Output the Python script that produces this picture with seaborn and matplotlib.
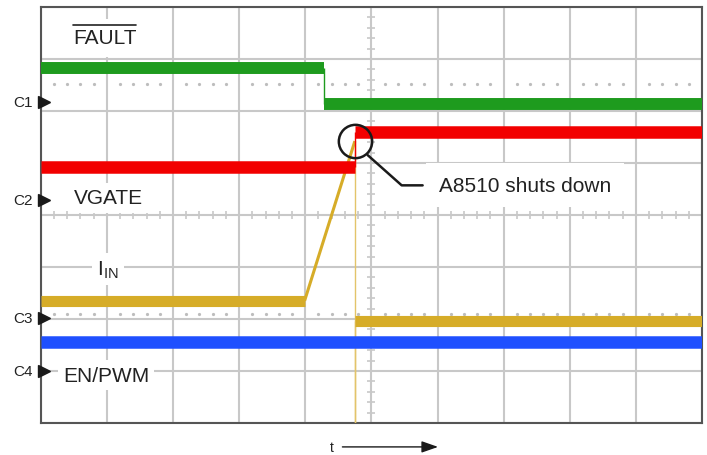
import numpy as np
import pandas as pd
import matplotlib
matplotlib.use("Agg")
import matplotlib.pyplot as plt
import seaborn as sns

# scope traces, in screen divisions (x: 0..10, y: 0..8)
fault_t = [0, 4.28, 4.28, 10]
fault_v = [6.83, 6.83, 6.13, 6.13]
vgate_t = [0, 4.75, 4.75, 10]
vgate_v = [4.92, 4.92, 5.60, 5.60]
iin_t = [0, 3.99, 4.75, 4.75, 4.75, 10]
iin_v = [2.35, 2.35, 5.42, 0.0, 1.96, 1.96]
en_t = [0, 10]
en_v = [1.56, 1.56]

channels = ["C1", "C2", "C3", "C4"]
ch_ref = [6.17, 4.29, 2.02, 1.00]

sns.set_style("white")
plt.rcParams["font.family"] = ["Liberation Sans", "DejaVu Sans"]
plt.rcParams["mathtext.fontset"] = "custom"
plt.rcParams["mathtext.rm"] = "Liberation Sans"

fig = plt.figure(figsize=(7.07, 4.56), dpi=100)
ax = fig.add_axes([0.0576, 0.0702, 0.9354, 0.9123])
ax.set_xlim(0, 10)
ax.set_ylim(0, 8)
ax.set_xticks(range(11))
ax.set_yticks(range(9))
ax.tick_params(length=0, labelbottom=False, labelleft=False)
ax.set_axisbelow(True)
ax.grid(True, color="#c8c8c8", lw=1.5)
for s in ax.spines.values():
    s.set_color("#555555")
    s.set_linewidth(1.5)

# center-line minor ticks and dotted rows
minor_x = [m / 5 for m in range(1, 50) if m % 5]
minor_y = [m / 5 for m in range(1, 40) if m % 5]
ax.plot([5] * len(minor_y), minor_y, ls="none", marker="_",
        ms=6, mew=1.2, color="#c8c8c8", zorder=0.6)
ax.plot(minor_x, [4] * len(minor_x), ls="none", marker="|", ms=6, mew=1.2,
        color="#c8c8c8", zorder=0.6)
for yd in [6.52, 2.10]:
    ax.plot(minor_x, [yd] * len(minor_x), ls="none", marker="o", ms=1.3,
            color="#bdbdbd", zorder=0.6)


def trace(t, v, color, band, thin_color=None):
    for i in range(len(t) - 1):
        seg = pd.DataFrame({"t": t[i:i + 2], "v": v[i:i + 2]})
        if v[i] == v[i + 1]:
            lw = band
            c = color
        elif t[i] == t[i + 1]:
            lw = 1.0
            c = thin_color or color
        else:
            lw = 2.2
            c = color
        sns.lineplot(data=seg, x="t", y="v", ax=ax, color=c, lw=lw,
                     sort=False, estimator=None, solid_capstyle="butt", zorder=3)


trace(fault_t, fault_v, "#1e9b1e", 8.6)
trace(iin_t, iin_v, "#d6ac28", 8.0, "#e3c46a")
trace(vgate_t, vgate_v, "#f20000", 9.0)
trace(en_t, en_v, "#1f50ff", 9.0)
ax.set_xlabel("")
ax.set_ylabel("")

# channel markers
for name, yv in zip(channels, ch_ref):
    ax.text(-0.116, yv, name, ha="right", va="center", fontsize=11, color="#222222")
    ax.plot(0.05, yv, marker=">", ms=8, color="#1a1a1a", clip_on=False, zorder=5)

box = dict(boxstyle="square,pad=0.25", facecolor="white", edgecolor="none")
ax.text(0.488, 7.41, "FAULT", fontsize=15, va="center", ha="left", color="#222222",
        bbox=dict(boxstyle="square,pad=0.45", facecolor="white", edgecolor="none"))
ax.plot([0.488, 1.44], [7.65, 7.65], color="#222222", lw=1.2, zorder=4)
ax.text(0.503, 4.33, "VGATE", fontsize=15, va="center", ha="left", color="#222222", bbox=box)
ax.text(0.85, 2.96, r"I$_{\mathrm{IN}}$", fontsize=15, va="center", ha="left",
        color="#222222", bbox=box)
ax.text(0.337, 0.92, "EN/PWM", fontsize=15, va="center", ha="left", color="#222222", bbox=box)

# annotation circle at the shutdown point
cx, cy = iin_t[2], iin_v[2]
ax.plot(cx, cy, marker="o", ms=24, mfc="none", mec="#1a1a1a", mew=1.8, zorder=6)
ax.plot([cx + 0.195, cx + 0.708, cx + 1.025], [cy - 0.27, cy - 0.85, cy - 0.85],
        color="#1a1a1a", lw=1.8, zorder=6)
ax.text(cx + 1.27, cy - 0.85, "A8510 shuts down", fontsize=15, va="center", ha="left",
        color="#222222", bbox=dict(boxstyle="square,pad=0.6", facecolor="white", edgecolor="none"),
        zorder=5)

# time arrow
ax.text(4.40, -0.46, "t", fontsize=10, ha="center", va="center", color="#222222")
ax.annotate("", xy=(6.05, -0.46), xytext=(4.52, -0.46), annotation_clip=False,
            arrowprops=dict(arrowstyle="-|>,head_length=1.0,head_width=0.35",
                            color="#1a1a1a", lw=1.0))

fig.savefig("out.png", dpi=100)
